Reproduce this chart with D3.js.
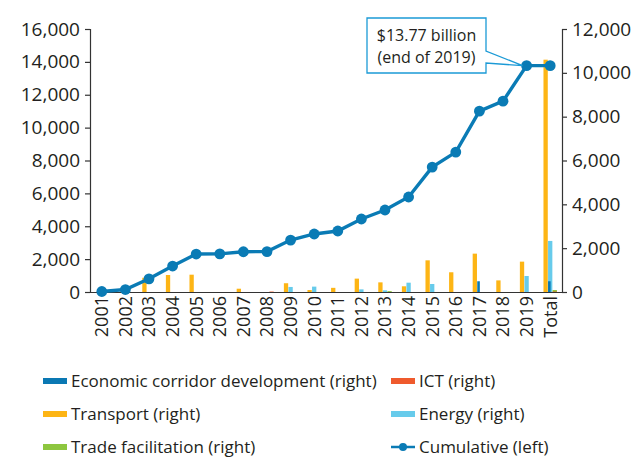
<!DOCTYPE html>
<html>
<head>
<meta charset="utf-8">
<script src="https://cdn.jsdelivr.net/npm/d3@7"></script>
<style>
  body { margin: 0; background: #fff; }
  text { font-family: "Open Sans", "Noto Sans", sans-serif; fill: #231f20; }
</style>
</head>
<body>
<script>
var years = ["2001","2002","2003","2004","2005","2006","2007","2008","2009","2010",
             "2011","2012","2013","2014","2015","2016","2017","2018","2019","Total"];

// right axis series ($ million)
var corridor  = [0,0,0,0,0,0,0,0,0,0,0,0,0,0,0,0,490,0,0,490];
var ict       = [0,0,0,0,0,0,0,20,0,0,0,0,0,0,0,0,0,0,0,20];
var transport = [0,0,650,775,790,0,150,0,400,90,190,610,440,260,1445,900,1750,530,1385,10600];
var energy    = [0,0,0,0,0,0,0,0,230,245,0,120,75,425,365,0,0,0,730,2330];
var trade     = [0,0,0,0,0,0,0,0,0,0,0,0,40,0,0,0,0,0,0,90];

// left axis series
var cumulative = [30,150,800,1580,2310,2320,2450,2460,3160,3530,3710,4440,4990,5780,
                  7600,8510,11000,11610,13770,13770];

var width = 639, height = 459;
var mLeft = 90, mRight = 562, mTop = 29, mBottom = 292;

var svg = d3.select("body").append("svg")
    .attr("width", width)
    .attr("height", height);

var x = d3.scaleBand().domain(years).range([mLeft, mRight]).padding(0);
var yL = d3.scaleLinear().domain([0, 16000]).range([mBottom, mTop]);
var yR = d3.scaleLinear().domain([0, 12000]).range([mBottom, mTop]);

// three slots per band; corridor shares the energy slot, ict the trade slot
var slot = d3.scaleBand().domain([0, 1, 2]).range([-7, 7]).padding(0.06);

var series = [
  {name: "transport", vals: transport, color: "#fdb515", s: 0},
  {name: "energy", vals: energy, color: "#67cbeb", s: 1},
  {name: "corridor", vals: corridor, color: "#0a78b3", s: 1, w: 0.6},
  {name: "trade", vals: trade, color: "#8dc63f", s: 2},
  {name: "ict", vals: ict, color: "#ef5a2d", s: 2}
];

series.forEach(function(ser) {
  svg.append("g").selectAll("rect")
    .data(ser.vals.map(function(v, i) { return {v: v, c: years[i]}; }).filter(function(d) { return d.v > 0; }))
    .enter().append("rect")
    .attr("x", function(d) { return x(d.c) + x.bandwidth() / 2 + slot(ser.s); })
    .attr("width", slot.bandwidth() * (ser.w || 1))
    .attr("y", function(d) { return yR(d.v); })
    .attr("height", function(d) { return mBottom - yR(d.v); })
    .attr("fill", ser.color);
});

// axes
var axisColor = "#333";
var gL = svg.append("g").attr("transform", "translate(" + mLeft + ",0)")
  .call(d3.axisLeft(yL).tickValues(d3.range(0, 16001, 2000)).tickSize(5).tickPadding(5).tickFormat(d3.format(",")));
var gR = svg.append("g").attr("transform", "translate(" + mRight + ",0)")
  .call(d3.axisRight(yR).tickValues(d3.range(0, 12001, 2000)).tickSize(5).tickPadding(5).tickFormat(d3.format(",")));
var gB = svg.append("g").attr("transform", "translate(0," + mBottom + ")")
  .call(d3.axisBottom(x).tickSize(0).tickPadding(4));

[gL, gR, gB].forEach(function(g) {
  g.select(".domain").attr("stroke", axisColor).attr("stroke-width", 1.2);
  g.selectAll(".tick line").attr("stroke", axisColor).attr("stroke-width", 1.2);
  g.selectAll("text").style("font-size", "19px").attr("fill", "#231f20")
    .style("font-family", "'Open Sans', 'Noto Sans', sans-serif");
});
gB.selectAll("text")
  .style("font-size", "18px")
  .attr("transform", "rotate(-90)")
  .attr("text-anchor", "end")
  .attr("dy", "0.35em")
  .attr("y", 0)
  .attr("x", -4);

// cumulative line
var line = d3.line()
  .x(function(d, i) { return x(years[i]) + x.bandwidth() / 2; })
  .y(function(d) { return yL(d); });

svg.append("path")
  .datum(cumulative)
  .attr("d", line)
  .attr("fill", "none")
  .attr("stroke", "#0a7bb5")
  .attr("stroke-width", 3.4);

svg.append("g").selectAll("circle")
  .data(cumulative)
  .enter().append("circle")
  .attr("cx", function(d, i) { return x(years[i]) + x.bandwidth() / 2; })
  .attr("cy", function(d) { return yL(d); })
  .attr("r", 5.4)
  .attr("fill", "#0a7bb5");

// callout
var px = x("2019") + x.bandwidth() / 2 - 4, py = yL(13770);
var bx0 = 367, by0 = 18, bx1 = 486, by1 = 73;
svg.append("path")
  .attr("d", "M" + bx0 + "," + by0 + "H" + bx1 + "V" + (by1 - 22) + "L" + px + "," + py +
             "L" + bx1 + "," + (by1 - 10) + "V" + by1 + "H" + bx0 + "Z")
  .attr("fill", "#fff")
  .attr("stroke", "#1b9ad6")
  .attr("stroke-width", 1.3);
svg.append("text").attr("x", (bx0 + bx1) / 2).attr("y", 41)
  .attr("text-anchor", "middle").style("font-size", "16px").text("$13.77 billion");
svg.append("text").attr("x", (bx0 + bx1) / 2).attr("y", 63)
  .attr("text-anchor", "middle").style("font-size", "16px").text("(end of 2019)");

// legend
var legend = [
  {label: "Economic corridor development (right)", color: "#0a78b3", col: 0, row: 0},
  {label: "ICT (right)", color: "#ef5a2d", col: 1, row: 0},
  {label: "Transport (right)", color: "#fdb515", col: 0, row: 1},
  {label: "Energy (right)", color: "#67cbeb", col: 1, row: 1},
  {label: "Trade facilitation (right)", color: "#8dc63f", col: 0, row: 2},
  {label: "Cumulative (left)", color: "#0a7bb5", col: 1, row: 2, line: true}
];
var colX = [43, 391], rowY = [381, 414, 447];
var lg = svg.append("g").selectAll("g").data(legend).enter().append("g")
  .attr("transform", function(d) { return "translate(" + colX[d.col] + "," + rowY[d.row] + ")"; });
lg.each(function(d) {
  var g = d3.select(this);
  if (d.line) {
    g.append("line").attr("x1", 0).attr("x2", 24).attr("y1", 0).attr("y2", 0)
      .attr("stroke", d.color).attr("stroke-width", 2.5);
    g.append("circle").attr("cx", 12).attr("cy", 0).attr("r", 4).attr("fill", d.color);
  } else {
    g.append("rect").attr("x", 0).attr("y", -3).attr("width", 24).attr("height", 6).attr("fill", d.color);
  }
  g.append("text").attr("x", 28).attr("y", 0).attr("dy", "0.35em")
    .style("font-size", "17px").text(d.label);
});
</script>
</body>
</html>
